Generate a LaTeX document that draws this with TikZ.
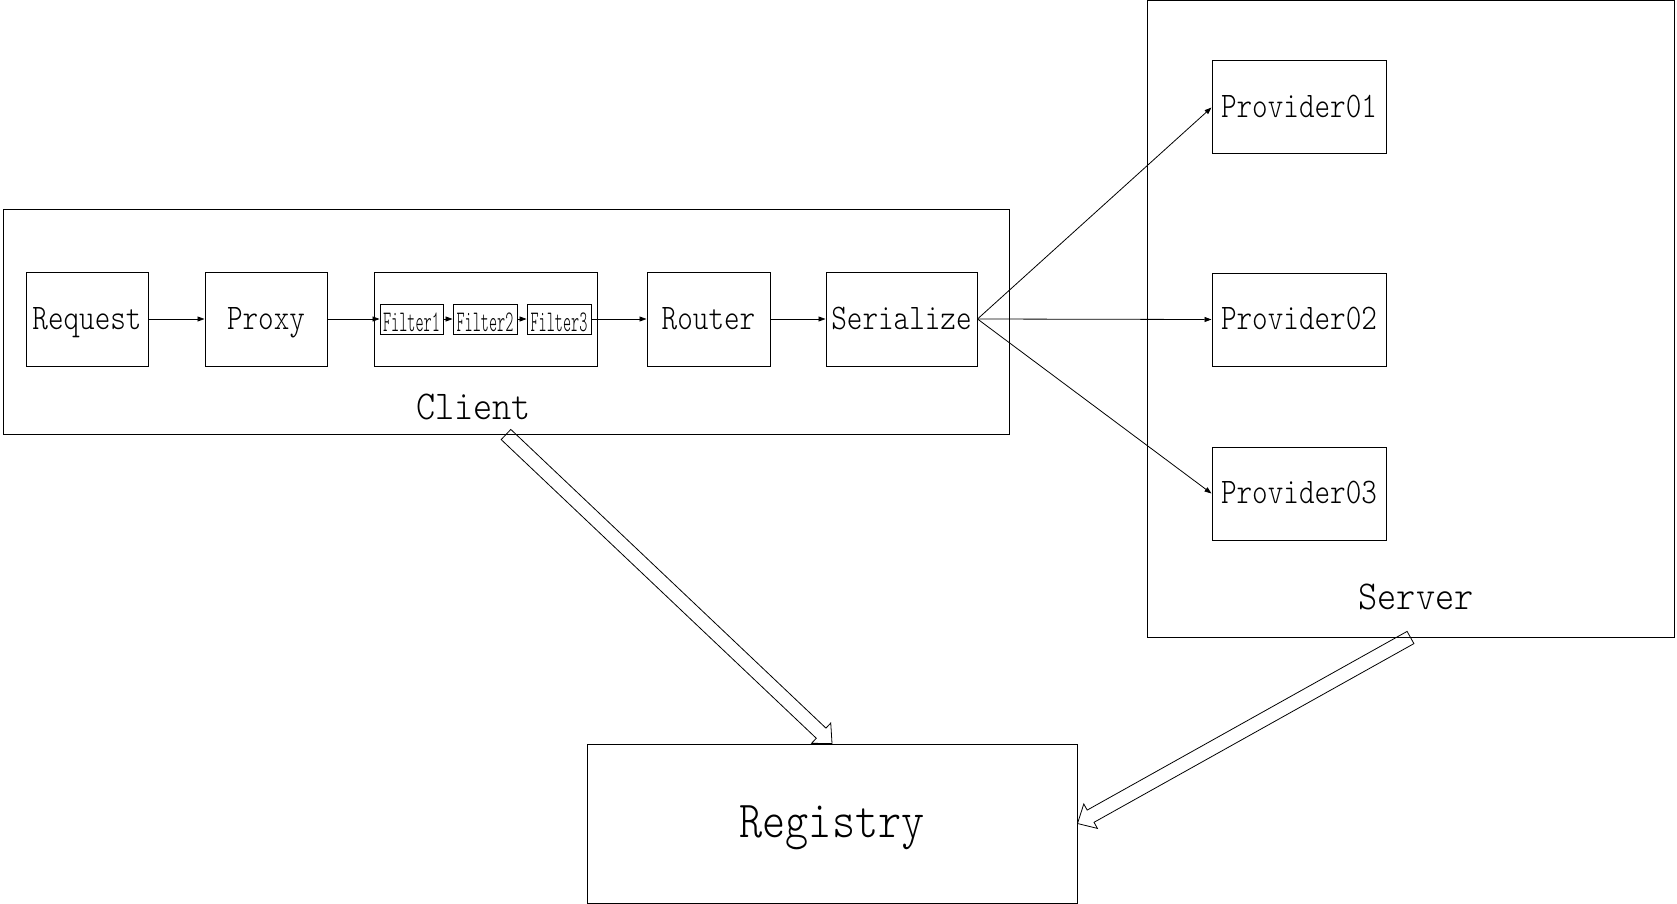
\documentclass[tikz,border=0pt]{standalone}
\usepackage{graphicx}
\usepackage{fontspec}
\newfontfamily\lmlight{lmmonolt10-regular}[Extension=.otf]
\usetikzlibrary{arrows.meta,calc}
\newcommand\lbl[3]{\scalebox{#2}[1]{\fontsize{#1}{#1}\selectfont #3}}
\newcommand\hollowarrow[2]{%
  \coordinate (ha-h) at ($(#2)!15pt!(#1)$);
  \draw[line width=0.8pt] ($(#1)!7pt!90:(#2)$) -- ($(ha-h)!7pt!90:(#2)$) -- ($(ha-h)!14pt!90:(#2)$) -- (#2)
    -- ($(ha-h)!14pt!-90:(#2)$) -- ($(ha-h)!7pt!-90:(#2)$) -- ($(#1)!7pt!-90:(#2)$) -- cycle;}
\tikzset{
  box/.style={draw, line width=1pt, inner sep=0pt, font=\lmlight, text height=22pt, text depth=2pt},
  fbox/.style={draw, line width=0.9pt, inner sep=0pt, font=\lmlight, minimum height=30pt, text height=18pt, text depth=0pt},
  conn/.style={line width=0.8pt, -{Triangle[length=7pt,width=5pt]}},
  plain/.style={inner sep=0pt, font=\lmlight, anchor=base}
}
\begin{document}
\begin{tikzpicture}[x=1pt,y=-1pt]
\useasboundingbox (0,0) rectangle (1677,904);
% containers
\node[box, minimum width=1006pt, minimum height=225pt] (client) at (506,321.5) {};
\node[box, minimum width=527pt, minimum height=636pt] (server) at (1410.5,319) {};
\node[plain] (clientlbl) at (473.5,419) {\lbl{41}{0.89}{Client}};
\node[plain] (serverlbl) at (1416,609) {\lbl{41}{0.89}{Server}};
% client chain
\node[box, minimum width=122pt, minimum height=94pt] (request) at (87,319) {\lbl{36}{0.825}{Request}};
\node[box, minimum width=122pt, minimum height=94pt] (proxy) at (266,319) {\lbl{36}{0.825}{Proxy}};
\node[box, minimum width=223pt, minimum height=94pt] (filters) at (485.5,319) {};
\node[fbox, minimum width=63pt] (f1) at (411.5,319) {\raisebox{-3pt}{\lbl{30}{0.515}{Filter1}}};
\node[fbox, minimum width=64pt] (f2) at (485,319) {\raisebox{-3pt}{\lbl{30}{0.515}{Filter2}}};
\node[fbox, minimum width=64pt] (f3) at (559,319) {\raisebox{-3pt}{\lbl{30}{0.515}{Filter3}}};
\node[box, minimum width=123pt, minimum height=94pt] (router) at (708.5,319) {\lbl{36}{0.825}{Router}};
\node[box, minimum width=151pt, minimum height=94pt] (serialize) at (901.5,319) {\lbl{36}{0.825}{Serialize}};
% providers
\node[box, minimum width=174pt, minimum height=93pt] (p1) at (1299,107.5) {\lbl{36}{0.825}{Provider01}};
\node[box, minimum width=174pt, minimum height=93pt] (p2) at (1299,319.5) {\lbl{36}{0.825}{Provider02}};
\node[box, minimum width=174pt, minimum height=93pt] (p3) at (1299,493.5) {\lbl{36}{0.825}{Provider03}};
% registry
\node[box, minimum width=490pt, minimum height=159pt, text height=32pt, text depth=5pt] (registry) at (832,823.5) {\lbl{52}{0.847}{Registry}};
% connectors
\draw[conn] (request) -- (proxy);
\draw[conn] (proxy) -- (f1);
\draw[conn] (f1) -- (f2);
\draw[conn] (f2) -- (f3);
\draw[conn] (f3) -- (router);
\draw[conn] (router) -- (serialize);
\draw[conn] (serialize.east) -- (p1.west);
\draw[conn] (serialize.east) -- (p2.west);
\draw[conn] (serialize.east) -- (p3.west);
% hollow arrows
\hollowarrow{client.south}{registry.north}
\hollowarrow{server.south}{registry.east}
\end{tikzpicture}
\end{document}
